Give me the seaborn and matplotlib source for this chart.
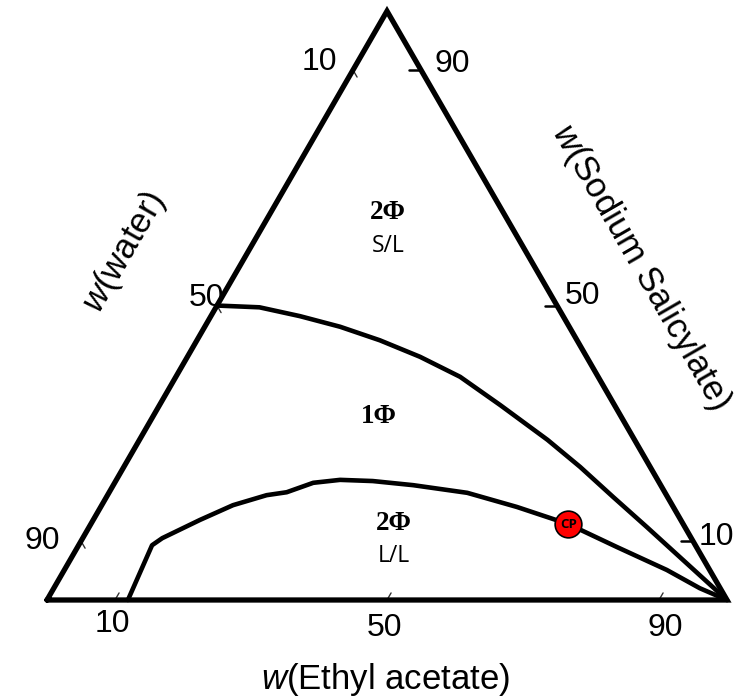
import numpy as np
import pandas as pd
import matplotlib
matplotlib.use("Agg")
import matplotlib.pyplot as plt
import seaborn as sns

# ---- data (mass fractions in %) ----
# upper binodal (S/L boundary): ethyl acetate, sodium salicylate
ea_upper = [0.0, 6.4, 13.1, 19.9, 26.9, 34.2, 41.8, 50.1, 60.0, 67.1, 74.5, 82.0, 89.4, 96.8, 100.0]
nasal_upper = [50.0, 49.7, 48.2, 46.4, 44.1, 41.3, 37.9, 33.1, 27.2, 22.6, 17.5, 12.4, 7.3, 2.2, 0.0]

# lower binodal (L/L boundary)
ea_lower = [11.9, 10.8, 11.7, 15.7, 19.3, 23.4, 26.1, 29.2, 32.9, 37.8, 44.1, 52.7, 61.2, 70.2, 79.3, 88.6, 95.0, 100.0]
nasal_lower = [0.0, 9.3, 10.5, 13.6, 16.1, 17.8, 18.3, 19.9, 20.4, 20.2, 19.5, 18.2, 15.8, 12.9, 9.0, 5.1, 2.0, 0.0]

# critical point
ea_cp = [70.2]
nasal_cp = [12.9]

tick_values = [10, 50, 90]
axis_titles = ["$w$(Ethyl acetate)", "$w$(water)", "$w$(Sodium Salicylate)"]
region_labels = ["2Φ", "S/L", "1Φ", "2Φ", "L/L"]

SQ = np.sqrt(3) / 2


def tern(ea, ns):
    ea = np.asarray(ea, float) / 100.0
    ns = np.asarray(ns, float) / 100.0
    return ea + ns / 2.0, ns * SQ


sns.set_style("white")
plt.rcParams["font.family"] = ["Liberation Sans", "DejaVu Sans"]
plt.rcParams["mathtext.fontset"] = "custom"
plt.rcParams["mathtext.it"] = "Liberation Sans:italic"
plt.rcParams["mathtext.rm"] = "Liberation Sans"
plt.rcParams["text.color"] = "black"

fig = plt.figure(figsize=(7.37, 7.0), dpi=100)
ax = fig.add_axes([0, 0, 1, 1])
PX = 680.0
ax.set_xlim(-47 / PX, (737 - 47) / PX)
ax.set_ylim(-100 / PX, 600 / PX)
ax.set_axis_off()


def px(xp, yp):
    return (xp - 47) / PX, (600 - yp) / PX


# triangle
tx, ty = tern([0, 100, 0, 0], [0, 0, 100, 0])
ax.plot(tx, ty, color="black", lw=3.8, solid_joinstyle="miter", zorder=3)

# ticks
for v in tick_values:
    x0, y0 = tern([v], [0])
    ax.plot([x0[0], x0[0] + 0.006], [y0[0], y0[0] + 0.0104], color="#333333", lw=1, zorder=2)
    x0, y0 = tern([0], [100 - v])
    ax.plot([x0[0], x0[0] + 0.006], [y0[0], y0[0] - 0.0104], color="#333333", lw=1, zorder=2)
    x0, y0 = tern([100 - v], [v])
    ax.plot([x0[0] - 0.017, x0[0]], [y0[0], y0[0]], color="black", lw=1.8, zorder=2)

# tick labels
fs_tick = 23
bottom_lab = {10: (112, 624), 50: (385, 628), 90: (665, 628)}
left_lab = {90: (42, 541), 50: (207, 298), 10: (319, 62)}
right_lab = {90: (452, 64), 50: (583, 296), 10: (716, 537)}
for v in tick_values:
    for d in (bottom_lab, left_lab, right_lab):
        x, y = px(*d[v])
        ax.text(x, y, str(v), fontsize=fs_tick, ha="center", va="center", color="black")

# axis titles
fs_title = 25
x, y = px(386, 680)
ax.text(x, y, axis_titles[0], fontsize=fs_title, ha="center", va="center", color="black")
x, y = px(124, 252)
ax.text(x, y, axis_titles[1], fontsize=fs_title, ha="center", va="center", rotation=60,
        rotation_mode="anchor", color="black")
x, y = px(641, 267)
ax.text(x, y, axis_titles[2], fontsize=fs_title, ha="center", va="center", rotation=-60,
        rotation_mode="anchor", color="black")

# curves
ux, uy = tern(ea_upper, nasal_upper)
lx, ly = tern(ea_lower, nasal_lower)
df_u = pd.DataFrame({"x": ux, "y": uy})
df_l = pd.DataFrame({"x": lx, "y": ly})
sns.lineplot(data=df_u, x="x", y="y", sort=False, estimator=None, color="black", lw=3.3,
             ax=ax, zorder=3, solid_joinstyle="round")
sns.lineplot(data=df_l, x="x", y="y", sort=False, estimator=None, color="black", lw=3.3,
             ax=ax, zorder=3, solid_joinstyle="round")

cx, cy = tern(ea_cp, nasal_cp)
sns.scatterplot(x=cx, y=cy, s=370, color="#ff0000", edgecolor="black", linewidth=1.2,
                ax=ax, zorder=5)
ax.text(cx[0], cy[0], "CP", fontsize=9.5, fontweight="bold", ha="center", va="center",
        color="black", zorder=6, family=["Open Sans", "DejaVu Sans"])

ax.set_xlabel("")
ax.set_ylabel("")

# region labels
phi_font = ["Liberation Serif", "DejaVu Serif"]
lab_font = ["Open Sans", "DejaVu Sans"]
x, y = px(388, 213)
ax.text(x, y, region_labels[0], fontsize=19.5, fontweight="bold", family=phi_font, ha="center", va="center", color="black")
x, y = px(388, 246)
ax.text(x, y, region_labels[1], fontsize=16.5, family=lab_font, ha="center", va="center", color="black")
x, y = px(379, 417)
ax.text(x, y, region_labels[2], fontsize=19.5, fontweight="bold", family=phi_font, ha="center", va="center", color="black")
x, y = px(394, 523)
ax.text(x, y, region_labels[3], fontsize=19.5, fontweight="bold", family=phi_font, ha="center", va="center", color="black")
x, y = px(394, 556)
ax.text(x, y, region_labels[4], fontsize=16.5, family=lab_font, ha="center", va="center", color="black")

fig.savefig("out.png", dpi=100)
